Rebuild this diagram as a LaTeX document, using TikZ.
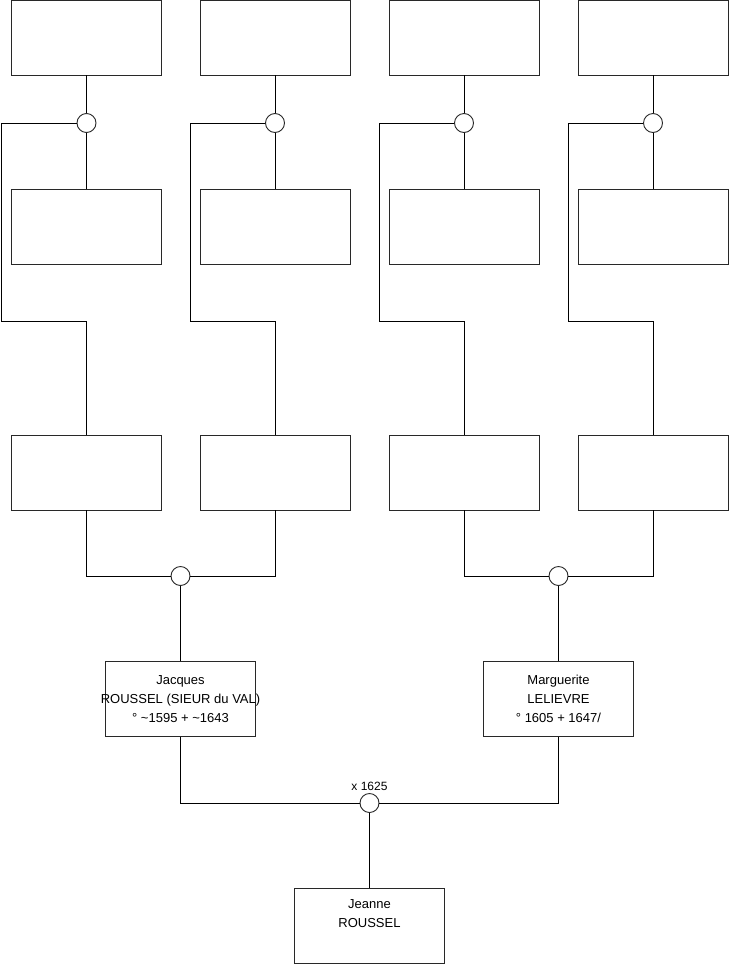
\documentclass[tikz,border=0pt]{standalone}
\usepackage{fontspec}
\setmainfont{Liberation Sans}
\usepackage{tikz}
\usetikzlibrary{positioning}
\definecolor{edge}{RGB}{40,40,40}

\begin{document}
\begin{tikzpicture}[
    x=1pt, y=-1pt,
    person/.style={rectangle, draw=edge, line width=0.9pt, fill=white, minimum width=150pt, minimum height=75pt, inner sep=0pt, align=center, font=\fontsize{13}{19}\selectfont},
    union/.style={circle, draw=edge, line width=0.9pt, fill=white, minimum size=19pt, inner sep=0pt},
    link/.style={draw=black, line width=0.9pt}
]
    \useasboundingbox (0,0) rectangle (740,975);

    % top row
    \node[person] (f1) at (86.5,37.5) {};
    \node[person] (f2) at (275,37.5) {};
    \node[person] (f3) at (464,37.5) {};
    \node[person] (f4) at (653,37.5) {};
    % second row
    \node[person] (m1) at (86.5,226.5) {};
    \node[person] (m2) at (275,226.5) {};
    \node[person] (m3) at (464,226.5) {};
    \node[person] (m4) at (653,226.5) {};
    % third row
    \node[person] (p1) at (86.5,472.5) {};
    \node[person] (p2) at (275,472.5) {};
    \node[person] (p3) at (464,472.5) {};
    \node[person] (p4) at (653,472.5) {};
    % parents and child
    \node[person] (jacques) at (180.5,699) {Jacques\\\makebox[0pt]{ROUSSEL (SIEUR du VAL)}\\° \textasciitilde1595 + \textasciitilde1643};
    \node[person] (marguerite) at (558.5,699) {Marguerite\\LELIEVRE\\° 1605 + 1647/};
    \node[person] (jeanne) at (369.5,925.5) {Jeanne\\ROUSSEL\\\strut};

    % unions
    \node[union] (u1) at (86.5,123) {};
    \node[union] (u2) at (275,123) {};
    \node[union] (u3) at (464,123) {};
    \node[union] (u4) at (653,123) {};
    \node[union] (u5) at (180.5,576) {};
    \node[union] (u6) at (558.5,576) {};
    \node[union, label={[font=\fontsize{12}{14}\selectfont, inner sep=2pt]above:x 1625}] (u7) at (369.5,803) {};

    \coordinate (b1) at (1.5,321);
    \coordinate (b2) at (190,321);
    \coordinate (b3) at (379,321);
    \coordinate (b4) at (568,321);

    \draw[link] (f1.south) -- (u1.north);
    \draw[link] (u1.south) -- (m1.north);
    \draw[link] (u1.west) -| (b1) -| (p1.north);
    \draw[link] (f2.south) -- (u2.north);
    \draw[link] (u2.south) -- (m2.north);
    \draw[link] (u2.west) -| (b2) -| (p2.north);
    \draw[link] (f3.south) -- (u3.north);
    \draw[link] (u3.south) -- (m3.north);
    \draw[link] (u3.west) -| (b3) -| (p3.north);
    \draw[link] (f4.south) -- (u4.north);
    \draw[link] (u4.south) -- (m4.north);
    \draw[link] (u4.west) -| (b4) -| (p4.north);

    \draw[link] (p1.south) |- (u5.west);
    \draw[link] (p2.south) |- (u5.east);
    \draw[link] (u5.south) -- (jacques.north);
    \draw[link] (p3.south) |- (u6.west);
    \draw[link] (p4.south) |- (u6.east);
    \draw[link] (u6.south) -- (marguerite.north);

    \draw[link] (jacques.south) |- (u7.west);
    \draw[link] (marguerite.south) |- (u7.east);
    \draw[link] (u7.south) -- (jeanne.north);
\end{tikzpicture}
\end{document}
